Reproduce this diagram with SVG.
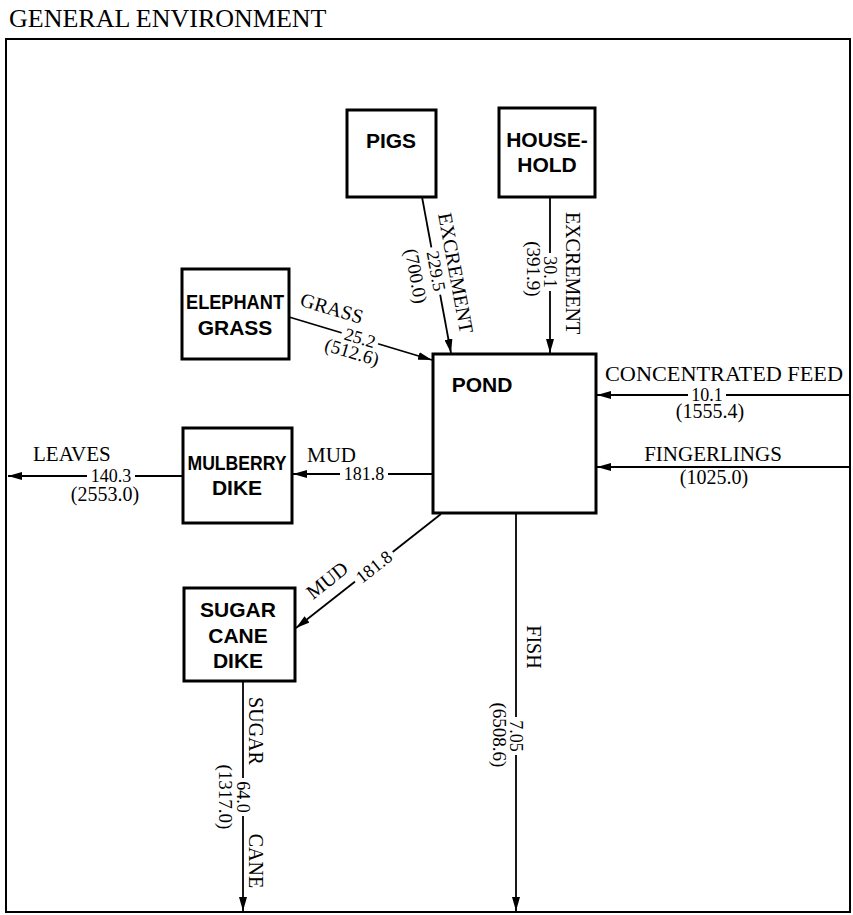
<svg xmlns="http://www.w3.org/2000/svg" width="853" height="915" viewBox="0 0 853 915">
<defs>
<marker id="ah" viewBox="0 0 14 8" refX="14" refY="4" markerWidth="14" markerHeight="8" markerUnits="userSpaceOnUse" orient="auto">
<path d="M0,0 L14,4 L0,8 Z" fill="#000"/>
</marker>
</defs>
<style>
.box{fill:#fff;stroke:#000;stroke-width:3}
.nl{font-family:"Liberation Sans",Arial,sans-serif;font-weight:bold;font-size:21px;fill:#000;text-anchor:middle}
.cn{stroke:#000;stroke-width:1.8;fill:none;marker-end:url(#ah)}
.lb{font-family:"Liberation Serif","Times New Roman",serif;font-size:21px;fill:#000}
.nm{font-family:"Liberation Serif","Times New Roman",serif;font-size:18px;fill:#000;text-anchor:middle;dominant-baseline:central}
.gap{fill:#fff}
.rl{font-family:"Liberation Serif","Times New Roman",serif;font-size:20px;fill:#000;text-anchor:middle;dominant-baseline:central}
</style>
<rect width="853" height="915" fill="#fff"/>
<text x="9" y="27" class="lb" style="font-size:26px">GENERAL ENVIRONMENT</text>
<rect id="environment" x="6" y="39" width="844" height="873" fill="none" stroke="#000" stroke-width="2"/>

<g id="connectors">
<line class="cn" x1="422" y1="197" x2="451" y2="353"/>
<line class="cn" x1="550" y1="197" x2="550" y2="353"/>
<line class="cn" x1="289" y1="317" x2="432" y2="360"/>
<line class="cn" x1="850" y1="395" x2="597" y2="395"/>
<line class="cn" x1="850" y1="467" x2="597" y2="467"/>
<line class="cn" x1="433" y1="474" x2="293" y2="474"/>
<line class="cn" x1="183" y1="476" x2="8" y2="476"/>
<line class="cn" x1="441" y1="514" x2="296" y2="628"/>
<line class="cn" x1="243" y1="681" x2="243" y2="911"/>
<line class="cn" x1="516" y1="514" x2="516" y2="911"/>

<text class="rl" transform="translate(456,273) rotate(79.5)">EXCREMENT</text>
<g transform="translate(436,271) rotate(79.5)"><rect class="gap" x="-24" y="-5" width="48" height="10"/><text class="nm">229.5</text></g>
<text class="rl" transform="translate(416,276) rotate(79.5)" style="font-size:19px">(700.0)</text>

<text class="rl" transform="translate(573,273) rotate(90)">EXCREMENT</text>
<g transform="translate(550,272) rotate(90)"><rect class="gap" x="-19" y="-5" width="38" height="10"/><text class="nm">30.1</text></g>
<text class="rl" transform="translate(533,269) rotate(90)" style="font-size:19px">(391.9)</text>

<text class="rl" transform="translate(332,308) rotate(16.6)">GRASS</text>
<g transform="translate(360,338) rotate(16.6)"><rect class="gap" x="-19" y="-5" width="38" height="10"/><text class="nm">25.2</text></g>
<text class="rl" transform="translate(352,352) rotate(16.6)" style="font-size:19px">(512.6)</text>

<text class="lb" x="724" y="381" text-anchor="middle" textLength="238" lengthAdjust="spacingAndGlyphs">CONCENTRATED FEED</text>
<g transform="translate(707,395)"><rect class="gap" x="-19" y="-5" width="38" height="10"/><text class="nm">10.1</text></g>
<text class="lb" x="710" y="418" text-anchor="middle" style="font-size:20px">(1555.4)</text>

<text class="lb" x="713" y="461" text-anchor="middle">FINGERLINGS</text>
<text class="lb" x="714" y="484" text-anchor="middle" style="font-size:20px">(1025.0)</text>

<text class="lb" x="307" y="462">MUD</text>
<g transform="translate(364,474)"><rect class="gap" x="-24" y="-5" width="48" height="10"/><text class="nm">181.8</text></g>

<text class="lb" x="33" y="461">LEAVES</text>
<g transform="translate(111,476)"><rect class="gap" x="-24" y="-5" width="48" height="10"/><text class="nm">140.3</text></g>
<text class="lb" x="105" y="501" text-anchor="middle" style="font-size:20px">(2553.0)</text>

<text class="rl" transform="translate(327,580) rotate(-38.2)">MUD</text>
<g transform="translate(374,567) rotate(-38.2)"><rect class="gap" x="-24" y="-5" width="48" height="10"/><text class="nm">181.8</text></g>

<text class="rl" transform="translate(256,731) rotate(90)">SUGAR</text>
<g transform="translate(243,797) rotate(90)"><rect class="gap" x="-19" y="-5" width="38" height="10"/><text class="nm">64.0</text></g>
<text class="rl" transform="translate(225,797) rotate(90)" style="font-size:19px">(1317.0)</text>
<text class="rl" transform="translate(256,861) rotate(90)">CANE</text>

<text class="rl" transform="translate(534,647) rotate(90)">FISH</text>
<g transform="translate(516,736) rotate(90)"><rect class="gap" x="-19" y="-5" width="38" height="10"/><text class="nm">7.05</text></g>
<text class="rl" transform="translate(499,735) rotate(90)" style="font-size:19px">(6508.6)</text>
</g>

<g id="pigs">
<rect class="box" x="347" y="110" width="89" height="87"/>
<text class="nl" x="391" y="148">PIGS</text>
</g>
<g id="household">
<rect class="box" x="499" y="108" width="96" height="89"/>
<text class="nl" x="547" y="147">HOUSE-</text>
<text class="nl" x="547" y="172">HOLD</text>
</g>
<g id="elephant-grass">
<rect class="box" x="182" y="269" width="107" height="90"/>
<text class="nl" x="235" y="309" textLength="98" lengthAdjust="spacingAndGlyphs">ELEPHANT</text>
<text class="nl" x="235" y="335">GRASS</text>
</g>
<g id="pond">
<rect class="box" x="433" y="354" width="163" height="159"/>
<text class="nl" x="482" y="392">POND</text>
</g>
<g id="mulberry-dike">
<rect class="box" x="183" y="428" width="109" height="95"/>
<text class="nl" x="237" y="470" textLength="99" lengthAdjust="spacingAndGlyphs">MULBERRY</text>
<text class="nl" x="237" y="495">DIKE</text>
</g>
<g id="sugar-cane-dike">
<rect class="box" x="184" y="588" width="111" height="93"/>
<text class="nl" x="238" y="617">SUGAR</text>
<text class="nl" x="238" y="643">CANE</text>
<text class="nl" x="238" y="668">DIKE</text>
</g>
</svg>
